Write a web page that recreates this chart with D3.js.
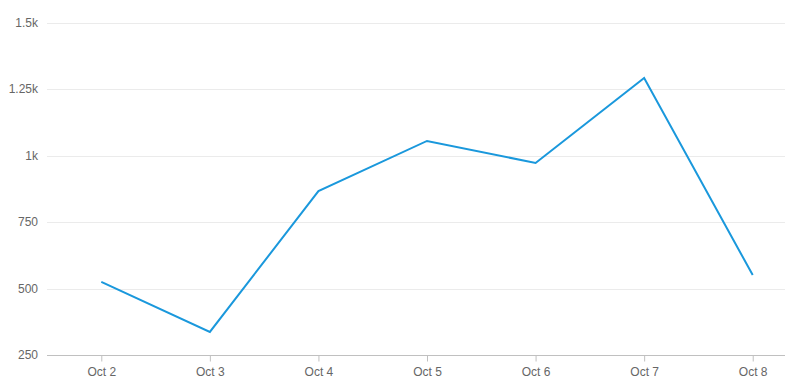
<!DOCTYPE html>
<html>
<head>
<meta charset="utf-8">
<script src="https://cdn.jsdelivr.net/npm/d3@7"></script>
<style>
  body { margin: 0; background: #fff; }
  svg { display: block; font-family: "Liberation Sans", Arial, sans-serif; }
</style>
</head>
<body>
<svg id="svg" width="785" height="392"></svg>
<script>
// chart data
var days = ['Oct 2', 'Oct 3', 'Oct 4', 'Oct 5', 'Oct 6', 'Oct 7', 'Oct 8'];
var values = [525, 337, 867, 1056, 973, 1293, 551];
var yTicks = [250, 500, 750, 1000, 1250, 1500];
var yTickLabels = ['250', '500', '750', '1k', '1.25k', '1.5k'];

var svg = d3.select('#svg');
var width = 785;
var height = 392;
var margin = { top: 23, bottom: 37, left: 47, right: -22 };

var xScale = d3.scalePoint()
    .domain(days)
    .range([margin.left, width - margin.right])
    .padding(0.5);

var yScale = d3.scaleLinear()
    .domain([250, 1500])
    .range([height - margin.bottom, margin.top]);

// horizontal grid
svg.append('g')
    .selectAll('line')
    .data(yTicks.slice(1))
    .join('line')
    .attr('x1', margin.left)
    .attr('x2', width)
    .attr('y1', d => Math.round(yScale(d)) + 0.5)
    .attr('y2', d => Math.round(yScale(d)) + 0.5)
    .style('stroke', '#ebebeb');

// y labels
svg.append('g')
    .selectAll('text')
    .data(yTicks)
    .join('text')
    .attr('x', 38)
    .attr('y', d => yScale(d) + 4)
    .attr('text-anchor', 'end')
    .style('font-size', '12px')
    .style('fill', '#666')
    .text((d, i) => yTickLabels[i]);

// x axis
var xAxis = d3.axisBottom(xScale).tickSize(6).tickPadding(6);
var gx = svg.append('g')
    .attr('transform', 'translate(0,' + (Math.round(yScale(250)) + 0.5) + ')')
    .call(xAxis);
gx.select('.domain').remove();
gx.insert('line', ':first-child')
    .attr('x1', margin.left)
    .attr('x2', width)
    .style('stroke', '#c0c0c0');
gx.selectAll('.tick line').style('stroke', '#c0c0c0');
gx.selectAll('.tick text')
    .style('font-size', '12px')
    .style('fill', '#666')
    .style('font-family', '"Liberation Sans", Arial, sans-serif');

// line
var line = d3.line()
    .x((d, i) => xScale(days[i]))
    .y(d => yScale(d));

svg.append('path')
    .datum(values)
    .attr('d', line)
    .style('fill', 'none')
    .style('stroke', '#1a98dc')
    .style('stroke-width', 2)
    .style('stroke-linejoin', 'miter');
</script>
</body>
</html>
